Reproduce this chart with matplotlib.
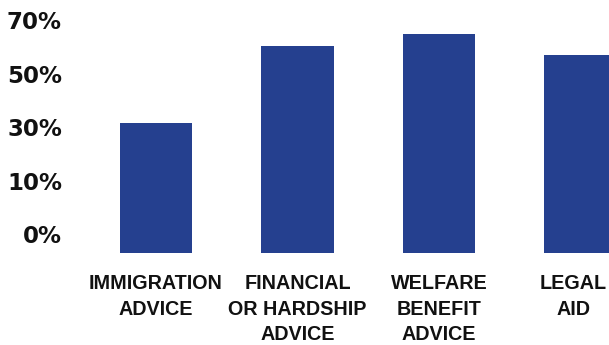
"""Share of respondents who sought each type of advice - bar chart."""

import matplotlib

matplotlib.use("Agg")
import matplotlib.pyplot as plt  # noqa: E402
from matplotlib.transforms import blended_transform_factory  # noqa: E402

BAR = "#25408f"
INK = "#111111"

categories = [
    "IMMIGRATION\nADVICE",
    "FINANCIAL\nOR HARDSHIP\nADVICE",
    "WELFARE\nBENEFIT\nADVICE",
    "LEGAL\nAID",
]
values = [32.5, 61.5, 66.0, 58.0]  # percent

ytick_pos = [-10, 10, 30, 50, 70]
ytick_labels = ["0%", "10%", "30%", "50%", "70%"]

BASE = -16.1  # bars start at the axis floor

fig = plt.figure(figsize=(6.09, 3.45), dpi=100)
ax = fig.add_axes([0, 0.2675, 1, 0.7325])
ax.set_xlim(-1.1025, 3.2014)
ax.set_ylim(BASE, 78.6)
ax.axis("off")

x = list(range(len(values)))
ax.bar(x, [v - BASE for v in values], bottom=BASE, width=0.509,
       color=BAR, linewidth=0)

# y labels sit left of the first bar
ytr = blended_transform_factory(fig.transFigure, ax.transData)
for pos, lab in zip(ytick_pos, ytick_labels):
    ax.text(62 / 609, pos, lab, transform=ytr, ha="right", va="center",
            fontsize=16.5, fontweight="bold", color=INK,
            family="DejaVu Sans")

# category labels under the bars
xtr = blended_transform_factory(ax.transData, fig.transFigure)
labels = []
for xi, lab in zip(x, categories):
    t = ax.text(xi, 1 - 274 / 345, lab, transform=xtr, ha="center", va="top",
                multialignment="center", fontsize=14.2, fontweight="bold",
                color=INK, linespacing=1.45, family="Liberation Sans")
    labels.append(t)

# keep the last label inside the canvas, as in the original
fig.canvas.draw()
r = fig.canvas.get_renderer()
for t in labels:
    bb = t.get_window_extent(r)
    if bb.x1 > fig.bbox.width - 2:
        t.set_horizontalalignment("right")
        t.set_x(ax.transData.inverted().transform((fig.bbox.width - 2, 0))[0])

fig.savefig("out.png", dpi=100)
